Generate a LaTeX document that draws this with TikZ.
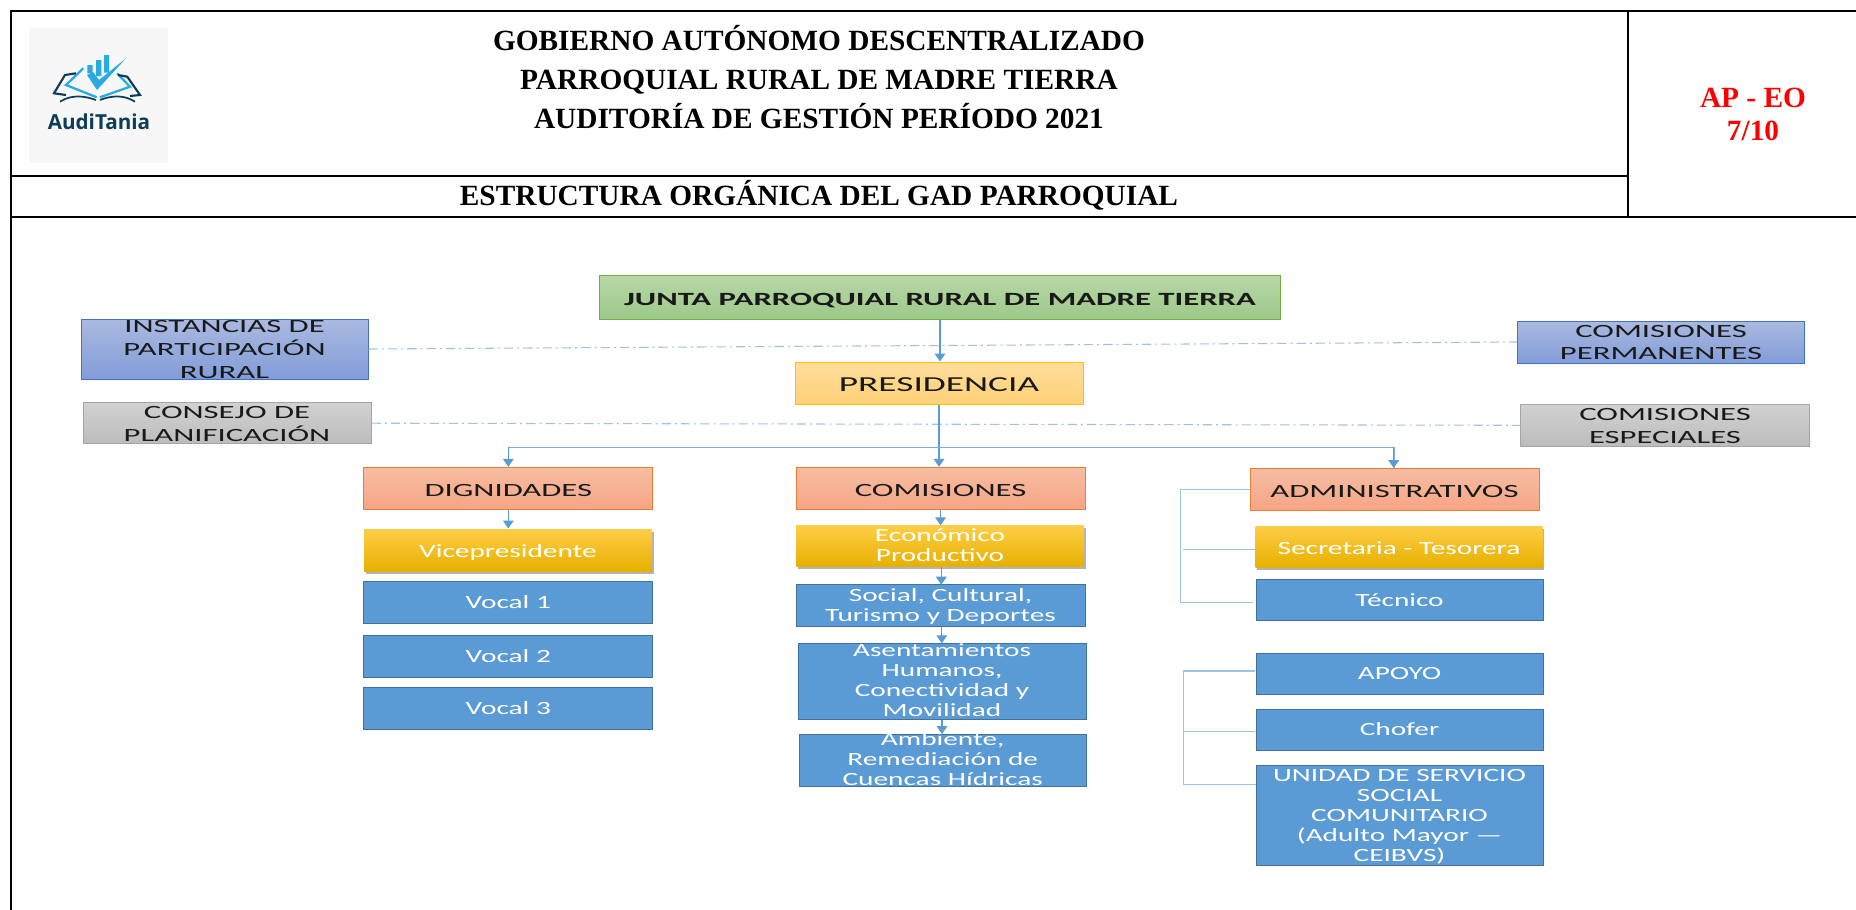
\documentclass[tikz,border=0pt]{standalone}
\usepackage{fontspec}
\usetikzlibrary{arrows.meta,shadows}
\setmainfont{Liberation Serif}
\newfontfamily\boxfont[FakeStretch=1.75]{Carlito}
\newfontfamily\whitefont[FakeStretch=1.57]{Carlito}
\newfontfamily\logofont{Open Sans}

\definecolor{conncol}{RGB}{91,155,213}
\definecolor{branchcol}{RGB}{123,174,222}
\definecolor{dashcol}{RGB}{157,195,230}
\definecolor{bluefill}{RGB}{91,155,213}
\definecolor{blueline}{RGB}{65,113,156}
\definecolor{logodark}{RGB}{15,61,87}
\definecolor{logolight}{RGB}{41,171,226}
\definecolor{greentop}{RGB}{183,215,167}
\definecolor{greenbot}{RGB}{157,201,137}
\definecolor{greenline}{RGB}{112,173,71}
\definecolor{purpletop}{RGB}{170,185,224}
\definecolor{purplebot}{RGB}{130,157,216}
\definecolor{purpleline}{RGB}{68,114,196}
\definecolor{greytop}{RGB}{209,209,209}
\definecolor{greybot}{RGB}{188,188,188}
\definecolor{greyline}{RGB}{165,165,165}
\definecolor{sandtop}{RGB}{255,221,156}
\definecolor{sandbot}{RGB}{255,209,120}
\definecolor{sandline}{RGB}{255,192,0}
\definecolor{salmontop}{RGB}{246,189,162}
\definecolor{salmonbot}{RGB}{246,165,133}
\definecolor{salmonline}{RGB}{237,125,49}
\definecolor{goldtop}{RGB}{255,205,70}
\definecolor{goldmid}{RGB}{255,192,0}
\definecolor{goldbot}{RGB}{230,176,0}

\tikzset{every picture/.style={line width=0.75pt}}
\tikzset{
	boxsize/.style 2 args={minimum width=#1*0.75pt,minimum height=#2*0.75pt},
	textlift/.style={text height=#1,text depth=0pt},
	basebox/.style={draw,rectangle,inner sep=0pt,align=center,text=black!90,font=\boxfont\fontsize{14}{17}\selectfont},
	greenbox/.style={basebox,textlift=12.6pt,draw=greenline,top color=greentop,bottom color=greenbot},
	purplebox/.style={basebox,draw=purpleline,top color=purpletop,bottom color=purplebot},
	greybox/.style={basebox,draw=greyline,top color=greytop,bottom color=greybot},
	sandbox/.style={basebox,textlift=12.6pt,draw=sandline,top color=sandtop,bottom color=sandbot,font=\boxfont\fontsize{16}{17}\selectfont},
	salmonbox/.style={basebox,textlift=12.6pt,draw=salmonline,top color=salmontop,bottom color=salmonbot},
	goldbox/.style={basebox,textlift=11pt,draw=none,text=white,top color=goldtop,middle color=goldmid,bottom color=goldbot,
		drop shadow={shadow xshift=1.2pt,shadow yshift=-2pt,opacity=0.6},font=\whitefont\fontsize{14}{15}\selectfont},
	bluebox/.style={basebox,draw=blueline,fill=bluefill,text=white,font=\whitefont\fontsize{14}{15}\selectfont},
	titletext/.style={font=\bfseries\fontsize{22}{29}\selectfont,align=center},
	conn/.style={draw=conncol,line width=1pt,-{Triangle[length=6pt,width=8pt]}},
	branch/.style={draw=branchcol,line width=0.9pt},
	bracket/.style={draw=dashcol,line width=1pt},
	dashdot/.style={draw=dashcol,line width=0.8pt,dash pattern=on 7pt off 3pt on 1.5pt off 3pt}
}

\begin{document}
\begin{tikzpicture}[x=0.75pt,y=0.75pt,yscale=-1,xscale=1]
	\useasboundingbox (0,0) rectangle (1856,910);

	% Header frame
	\draw [line width=1.6pt] (1856,11) -- (11,11) -- (11,910);
	\draw [line width=1.6pt] (11,176) -- (1628,176);
	\draw [line width=1.6pt] (11,217) -- (1856,217);
	\draw [line width=1.6pt] (1628,11) -- (1628,217);

	% Logo
	\fill [black!3] (29,28) rectangle (168,163);
	\fill [logolight] (87.3,65) rectangle (92.7,73.3) (96,60) rectangle (101.3,76) (104,55) rectangle (109,72.7);
	\fill [logolight] (87,75) -- (97,90) -- (126,58.3) -- (99,80) -- (93,72) -- cycle;
	\draw [logolight,line width=1.7pt] (83.3,68.3) -- (66,85) -- (96.7,97.3);
	\draw [logolight,line width=1.7pt] (117,73.3) -- (130,86.7) -- (100,97.3);
	\draw [logodark,line width=1.6pt] (76,73.3) -- (65,75) -- (54,93.3) -- (66,95);
	\draw [logodark,line width=1.6pt] (118,75) -- (127.3,76.7) -- (140,95) -- (130,96);
	\draw [logodark,line width=1.3pt] (60,101.7) .. controls (72,94) and (85,96) .. (96,100);
	\draw [logodark,line width=1.3pt] (135,101.7) .. controls (123,94) and (110,96) .. (100,100);
	\node (logotext) at (99,122) [text=logodark,font=\logofont\bfseries\fontsize{15.5}{15.5}\selectfont] {AudiTania};

	% Titles
	\node (title) at (819,77) [titletext] {GOBIERNO AUTÓNOMO DESCENTRALIZADO\\PARROQUIAL RURAL DE MADRE TIERRA\\AUDITORÍA DE GESTIÓN PERÍODO 2021};
	\node (subtitle) at (819,195) [titletext] {ESTRUCTURA ORGÁNICA DEL GAD PARROQUIAL};
	\node (code) at (1753,114.5) [titletext,text=red,font=\bfseries\fontsize{22}{25}\selectfont] {AP - EO\\7/10};

	% Top of the chart
	\node (junta) at (940,297) [greenbox,boxsize={681}{44},font=\boxfont\bfseries\fontsize{14}{17}\selectfont] {JUNTA PARROQUIAL RURAL DE MADRE TIERRA};
	\node (pres) at (939,383) [sandbox,boxsize={288}{42}] {PRESIDENCIA};
	\node (inst) at (224.5,349) [purplebox,boxsize={287}{60},textlift=43.5pt] {INSTANCIAS DE\\PARTICIPACIÓN\\RURAL};
	\node (cons) at (227,423.2) [greybox,boxsize={288}{41},textlift=27.5pt] {CONSEJO DE\\PLANIFICACIÓN};
	\node (perm) at (1661,342) [purplebox,boxsize={287}{42},textlift=26.5pt] {COMISIONES\\PERMANENTES};
	\node (espe) at (1665,425.3) [greybox,boxsize={289}{42.5},textlift=27.5pt] {COMISIONES\\ESPECIALES};

	% Dignidades
	\node (dign) at (508.3,488.3) [salmonbox,boxsize={289}{42}] {DIGNIDADES};
	\node (vice) at (508,550) [goldbox,boxsize={288}{42}] {Vicepresidente};
	\node (voc1) at (508.3,602) [bluebox,boxsize={289}{42}] {Vocal 1};
	\node (voc2) at (508.3,656) [bluebox,boxsize={289}{42}] {Vocal 2};
	\node (voc3) at (508.3,708.5) [bluebox,boxsize={289}{42}] {Vocal 3};

	% Comisiones
	\node (comi) at (940.5,488.3) [salmonbox,boxsize={289}{42}] {COMISIONES};
	\node (econ) at (940,546.3) [goldbox,boxsize={288}{41},textlift=23pt] {Económico\\Productivo};
	\node (soci) at (940.5,605.7) [bluebox,boxsize={289}{42},textlift=23pt] {Social, Cultural,\\Turismo y Deportes};
	\node (asen) at (942,681.5) [bluebox,boxsize={288}{76},textlift=53pt] {Asentamientos\\Humanos,\\Conectividad y\\Movilidad};
	\node (ambi) at (942.7,760.3) [bluebox,boxsize={287}{51.5},textlift=38pt] {Ambiente,\\Remediación de\\Cuencas Hídricas};

	% Administrativos
	\node (admi) at (1394.5,489.3) [salmonbox,boxsize={289}{42.5}] {ADMINISTRATIVOS};
	\node (secr) at (1399,546.7) [goldbox,boxsize={287}{41}] {Secretaria - Tesorera};
	\node (tecn) at (1399.5,599.8) [bluebox,boxsize={287}{41}] {Técnico};
	\node (apoy) at (1399.5,673.7) [bluebox,boxsize={287}{41}] {APOYO};
	\node (chof) at (1399.5,729.5) [bluebox,boxsize={287}{41}] {Chofer};
	\node (unid) at (1399.5,815.2) [bluebox,boxsize={287}{100},textlift=69.5pt] {UNIDAD DE SERVICIO\\SOCIAL\\COMUNITARIO\\(Adulto Mayor —\\CEIBVS)};

	% Dotted links
	\draw [dashdot] (inst.east) -- (perm.west);
	\draw [dashdot] (cons.east) -- (espe.west);

	% Arrows
	\coordinate (fork) at (939.6,447.3);
	\draw [conn] (junta.south) -- (junta.south|-pres.north);
	\draw [conn] (pres.south) -- (pres.south|-comi.north);
	\draw [branch] (fork) -| (dign.north);
	\draw [branch] (fork) -| (admi.north);
	\draw [conn] (508.3,447.3) -- (dign.north);
	\draw [conn] (1393.7,447.3) -- (1393.7,468);
	\draw [conn] (dign.south) -- (dign.south|-vice.north);
	\draw [conn] (comi.south) -- (comi.south|-econ.north);
	\draw [conn] (econ.south) ++(1.3,0) -- (941.3,584.7);
	\draw [conn] (soci.south) ++(1.3,0) -- (941.8,643.3);
	\draw [conn] (asen.south) -- (asen.south|-ambi.north);

	% Brackets
	\coordinate (admiend) at (1252.7,602.7);
	\coordinate (admimid) at (1183,549.3);
	\coordinate (apoyend) at (1255,671);
	\coordinate (apoymid) at (1183.7,731.3);
	\coordinate (unidend) at (1256,784.3);
	\draw [bracket] (admi.west) -- (1180.3,489.3) -- (1180.3,602.7) -- (admiend);
	\draw [bracket] (admimid) -- (admimid-|secr.west);
	\draw [bracket] (apoyend) -- (1183.7,671) -- (1183.7,784.3) -- (unidend);
	\draw [bracket] (apoymid) -- (1255,731.3);

\end{tikzpicture}
\end{document}
